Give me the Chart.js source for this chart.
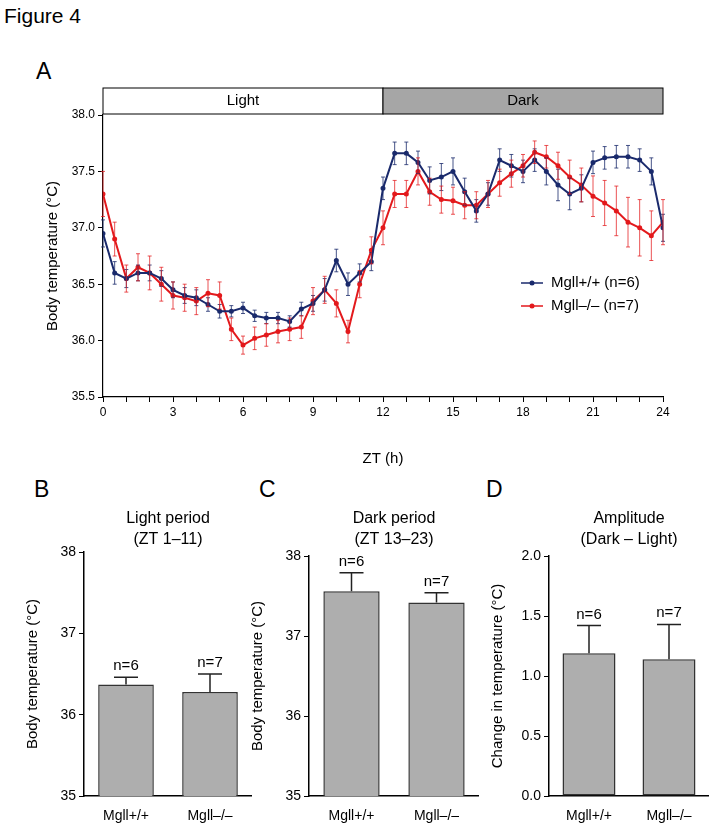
<!DOCTYPE html>
<html>
<head>
<meta charset="utf-8">
<script src="https://cdn.jsdelivr.net/npm/chart.js@4/dist/chart.umd.min.js"></script>
<style>
body { margin:0; background:#fff; font-family:"Liberation Sans", Arial, sans-serif; }
.lbl { position:absolute; color:#000; }
canvas { position:absolute; }
</style>
</head>
<body>
<div class="lbl" style="left:4px;top:4px;font-size:21px;">Figure 4</div>
<div class="lbl" style="left:36px;top:58px;font-size:23px;">A</div>
<div class="lbl" style="left:34px;top:476px;font-size:23px;">B</div>
<div class="lbl" style="left:259px;top:476px;font-size:23px;">C</div>
<div class="lbl" style="left:486px;top:476px;font-size:23px;">D</div>
<div style="position:absolute;left:40px;top:60px;width:660px;height:420px;"><canvas id="chartA"></canvas></div>
<div style="position:absolute;left:20px;top:460px;width:232px;height:363px;"><canvas id="chartB"></canvas></div>
<div style="position:absolute;left:245px;top:460px;width:234px;height:363px;"><canvas id="chartC"></canvas></div>
<div style="position:absolute;left:485px;top:460px;width:224px;height:363px;"><canvas id="chartD"></canvas></div>
<script>
// time course, every 0.5 h from ZT 0 to ZT 24
var ztHours = [0,0.5,1,1.5,2,2.5,3,3.5,4,4.5,5,5.5,6,6.5,7,7.5,8,8.5,9,9.5,10,10.5,11,11.5,12,12.5,13,13.5,14,14.5,15,15.5,16,16.5,17,17.5,18,18.5,19,19.5,20,20.5,21,21.5,22,22.5,23,23.5,24];
var wtMean = [36.95,36.6,36.55,36.6,36.6,36.55,36.45,36.4,36.38,36.32,36.26,36.26,36.29,36.22,36.2,36.2,36.17,36.28,36.33,36.45,36.71,36.5,36.6,36.7,37.35,37.66,37.66,37.58,37.42,37.45,37.5,37.32,37.15,37.3,37.6,37.55,37.5,37.6,37.5,37.38,37.3,37.35,37.58,37.62,37.63,37.63,37.6,37.5,37.0];
var wtSem  = [0.12,0.1,0.08,0.07,0.07,0.07,0.07,0.07,0.07,0.06,0.06,0.05,0.05,0.05,0.05,0.05,0.05,0.06,0.07,0.1,0.1,0.1,0.08,0.08,0.1,0.1,0.1,0.1,0.12,0.12,0.12,0.12,0.1,0.1,0.1,0.1,0.1,0.1,0.12,0.14,0.14,0.12,0.1,0.1,0.1,0.1,0.1,0.12,0.12];
var koMean = [37.3,36.9,36.55,36.65,36.6,36.5,36.4,36.38,36.35,36.42,36.4,36.1,35.96,36.02,36.05,36.08,36.1,36.12,36.35,36.45,36.33,36.08,36.5,36.8,37.0,37.3,37.3,37.5,37.32,37.25,37.24,37.2,37.2,37.3,37.4,37.48,37.55,37.67,37.63,37.55,37.45,37.38,37.28,37.22,37.15,37.05,37.0,36.93,37.05];
var koSem  = [0.2,0.15,0.12,0.12,0.15,0.15,0.12,0.12,0.12,0.12,0.12,0.1,0.08,0.1,0.1,0.1,0.1,0.1,0.12,0.12,0.12,0.1,0.12,0.12,0.15,0.12,0.12,0.12,0.12,0.12,0.12,0.12,0.12,0.12,0.12,0.12,0.1,0.1,0.1,0.12,0.15,0.15,0.18,0.2,0.22,0.22,0.25,0.22,0.2];
var xTickLabels = ['0','3','6','9','12','15','18','21','24'];
var legendLabels = ['Mgll+/+ (n=6)', 'Mgll\u2013/\u2013 (n=7)'];
// summary bars
var groups = ['Mgll+/+', 'Mgll\u2013/\u2013'];
var nLabels = ['n=6', 'n=7'];
var lightMean = [36.37, 36.28], lightSem = [0.09, 0.22];
var darkMean = [37.56, 37.42], darkSem = [0.23, 0.12];
var ampMean = [1.19, 1.14], ampSem = [0.23, 0.29];

var FONT = '"Liberation Sans", Arial, sans-serif';
var BLUE = '#1a2a6c', RED = '#e3191c';
Chart.defaults.font.family = FONT;
Chart.defaults.color = '#000';

var errorBars = {
  id: 'errorBars',
  afterDatasetsDraw: function (chart) {
    var ctx = chart.ctx, ys = chart.scales.y;
    chart.data.datasets.forEach(function (ds, di) {
      if (!ds.sem) return;
      var meta = chart.getDatasetMeta(di);
      ctx.save();
      ctx.strokeStyle = ds.errColor || ds.borderColor;
      ctx.lineWidth = ds.upOnly ? 1.5 : 1;
      meta.data.forEach(function (el, i) {
        var v = ds.data[i].y !== undefined ? ds.data[i].y : ds.data[i];
        var top = ys.getPixelForValue(v + ds.sem[i]);
        var bot = ds.upOnly ? el.y : ys.getPixelForValue(v - ds.sem[i]);
        var cw = ds.capW || 2;
        ctx.beginPath();
        ctx.moveTo(el.x, bot); ctx.lineTo(el.x, top);
        ctx.moveTo(el.x - cw, top); ctx.lineTo(el.x + cw, top);
        if (!ds.upOnly) { ctx.moveTo(el.x - cw, bot); ctx.lineTo(el.x + cw, bot); }
        ctx.stroke();
        if (ds.nLabels) {
          ctx.fillStyle = '#000';
          ctx.font = '15px ' + FONT;
          ctx.textAlign = 'center';
          ctx.fillText(ds.nLabels[i], el.x, top - 7);
        }
      });
      ctx.restore();
    });
  }
};

var panelA = {
  id: 'panelA',
  afterDraw: function (chart) {
    var ctx = chart.ctx, a = chart.chartArea, xs = chart.scales.x;
    var mid = xs.getPixelForValue(12);
    ctx.save();
    ctx.lineWidth = 1; ctx.strokeStyle = '#000';
    ctx.fillStyle = '#fff';
    ctx.fillRect(a.left, a.top - 27, mid - a.left, 26);
    ctx.strokeRect(a.left, a.top - 27, mid - a.left, 26);
    ctx.fillStyle = '#a6a6a6';
    ctx.fillRect(mid, a.top - 27, a.right - mid, 26);
    ctx.strokeRect(mid, a.top - 27, a.right - mid, 26);
    ctx.fillStyle = '#000';
    ctx.font = '15px ' + FONT;
    ctx.textAlign = 'center'; ctx.textBaseline = 'middle';
    ctx.fillText('Light', (a.left + mid) / 2, a.top - 14);
    ctx.fillText('Dark', (mid + a.right) / 2, a.top - 14);
    // legend
    var cols = [BLUE, RED];
    ctx.textAlign = 'left';
    legendLabels.forEach(function (t, i) {
      var y = a.top + 168 + i * 23, x = a.left + 418;
      ctx.strokeStyle = cols[i]; ctx.fillStyle = cols[i]; ctx.lineWidth = 1.5;
      ctx.beginPath(); ctx.moveTo(x, y); ctx.lineTo(x + 22, y); ctx.stroke();
      ctx.beginPath(); ctx.arc(x + 11, y, 2.5, 0, Math.PI * 2); ctx.fill();
      ctx.fillStyle = '#000';
      ctx.fillText(t, x + 30, y);
    });
    ctx.restore();
  }
};

function pts(m) { return ztHours.map(function (h, i) { return { x: h, y: m[i] }; }); }

new Chart(document.getElementById('chartA'), {
  type: 'line',
  data: { datasets: [
    { data: pts(wtMean), sem: wtSem, borderColor: BLUE, backgroundColor: BLUE, errColor: 'rgba(26,42,108,0.8)', borderWidth: 2, pointRadius: 1.5, capW: 2 },
    { data: pts(koMean), sem: koSem, borderColor: RED, backgroundColor: RED, errColor: 'rgba(227,25,28,0.75)', borderWidth: 2, pointRadius: 1.5, capW: 2 }
  ] },
  options: {
    animation: false, responsive: true, maintainAspectRatio: false,
    layout: { padding: { top: 55, right: 37 } },
    plugins: { legend: { display: false }, tooltip: { enabled: false } },
    scales: {
      x: { type: 'linear', min: 0, max: 24,
        grid: { drawOnChartArea: false, color: '#000', tickLength: 5 }, border: { color: '#000', width: 1.2 },
        ticks: { stepSize: 1, autoSkip: false, maxRotation: 0, font: { size: 12 },
          callback: function (v) { return v % 3 === 0 ? xTickLabels[v / 3] : ''; } },
        title: { display: true, text: 'ZT (h)', font: { size: 15 }, padding: { top: 4, bottom: 12 } },
        afterFit: function (s) { s.height = 83; } },
      y: { min: 35.5, max: 38.0,
        grid: { drawOnChartArea: false, color: '#000', tickLength: 5 }, border: { color: '#000', width: 1.2 },
        ticks: { stepSize: 0.5, font: { size: 12 }, callback: function (v) { return v.toFixed(1); } },
        title: { display: true, text: 'Body temperature (\u00B0C)', font: { size: 15 } },
        afterFit: function (s) { s.width = 63; } }
    }
  },
  plugins: [errorBars, panelA]
});

function barPanel(id, titleLines, titleOff, means, sems, yMin, yMax, step, dec, yTitle, topPad, rightPad) {
  var titles = {
    id: 'titles',
    afterDraw: function (chart) {
      var ctx = chart.ctx, a = chart.chartArea;
      ctx.save();
      ctx.fillStyle = '#000'; ctx.font = '16px ' + FONT; ctx.textAlign = 'center';
      titleLines.forEach(function (t, i) { ctx.fillText(t, (a.left + a.right) / 2, a.top + titleOff + i * 21); });
      ctx.restore();
    }
  };
  new Chart(document.getElementById(id), {
    type: 'bar',
    data: { labels: groups, datasets: [{ data: means, sem: sems, upOnly: true, capW: 12, nLabels: nLabels,
      backgroundColor: '#aeaeae', borderColor: '#333', errColor: '#222', borderWidth: 1.5, borderSkipped: false,
      categoryPercentage: 0.72, barPercentage: 0.92 }] },
    options: {
      animation: false, responsive: true, maintainAspectRatio: false,
      layout: { padding: { top: topPad, right: rightPad } },
      plugins: { legend: { display: false }, tooltip: { enabled: false } },
      scales: {
        x: { grid: { display: false }, border: { color: '#000', width: 1.5 },
          ticks: { font: { size: 14 }, padding: 4 }, afterFit: function (s) { s.height = 27; } },
        y: { min: yMin, max: yMax,
          grid: { drawOnChartArea: false, color: '#000', tickLength: 5 }, border: { color: '#000', width: 1.5 },
          ticks: { stepSize: step, font: { size: 14 }, callback: function (v) { return v.toFixed(dec); } },
          title: { display: true, text: yTitle, font: { size: 15 } },
          afterFit: function (s) { s.width = 64; } }
      }
    },
    plugins: [errorBars, titles]
  });
}

barPanel('chartB', ['Light period', '(ZT 1\u201311)'], -29, lightMean, lightSem, 35, 38, 1, 0, 'Body temperature (\u00B0C)', 92, 0);
barPanel('chartC', ['Dark period', '(ZT 13\u201323)'], -33, darkMean, darkSem, 35, 38, 1, 0, 'Body temperature (\u00B0C)', 96, 0);
barPanel('chartD', ['Amplitude', '(Dark \u2013 Light)'], -33, ampMean, ampSem, 0, 2, 0.5, 1, 'Change in temperature (\u00B0C)', 96, 0);
</script>
</body>
</html>
